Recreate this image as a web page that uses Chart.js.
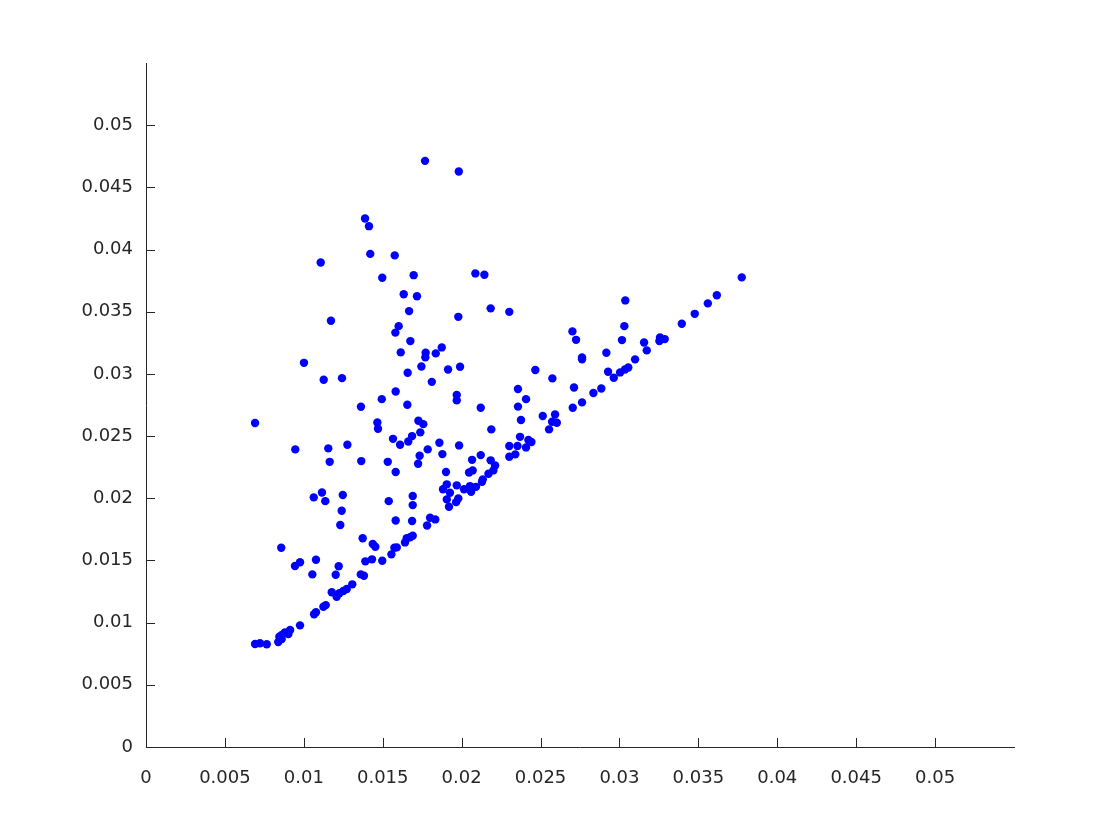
<!DOCTYPE html>
<html><head><meta charset="utf-8">
<script src="https://cdn.jsdelivr.net/npm/chart.js@4/dist/chart.umd.min.js"></script>
<style>html,body{margin:0;padding:0;background:#fff}#wrap{width:1120px;height:840px}</style>
</head><body><div id="wrap"><canvas id="c" width="1120" height="840"></canvas></div>
<script>
const xValues = [
0.01768,0.01982,0.01388,0.01413,0.01107,0.01421,0.01576,0.01497,0.01696,0.02087,
0.02144,0.01633,0.01717,0.01667,0.02184,0.02302,0.01172,0.01979,0.01601,0.01580,
0.01675,0.01614,0.01772,0.01770,0.01836,0.01874,0.01001,0.01745,0.01658,0.01914,
0.01990,0.01126,0.01242,0.01811,0.01582,0.01969,0.01969,0.01494,0.01362,0.01656,
0.02121,0.02357,0.02357,0.00691,0.01466,0.01470,0.01726,0.01757,0.01738,0.02188,
0.02376,0.01565,0.01686,0.01662,0.01610,0.01859,0.01984,0.00946,0.01155,0.01276,
0.01785,0.01878,0.01164,0.01364,0.01532,0.01734,0.01724,0.01582,0.02066,0.02121,
0.02184,0.02212,0.02201,0.02170,0.02134,0.02129,0.02070,0.02047,0.01901,0.02302,
0.02354,0.02302,0.02340,0.02370,0.01906,0.01882,0.01969,0.02015,0.02053,0.02091,
0.02060,0.01926,0.01906,0.01979,0.01965,0.01920,0.01063,0.01115,0.01136,0.01247,
0.01240,0.01538,0.01690,0.01690,0.01582,0.01686,0.01800,0.01833,0.01781,0.01231,
0.00857,0.01373,0.01437,0.01453,0.00944,0.00976,0.01077,0.01054,0.01221,0.01202,
0.01390,0.01432,0.01497,0.01555,0.01574,0.01589,0.01641,0.01652,0.01673,0.01690,
0.01361,0.01381,0.01307,0.01272,0.01250,0.01225,0.01208,0.01177,0.01139,0.01124,
0.01077,0.01065,0.00976,0.00913,0.00902,0.00881,0.00860,0.00845,0.00860,0.00838,
0.00691,0.00722,0.00765,0.03775,0.03617,0.03560,0.03477,0.03395,0.03037,0.02702,
0.02725,0.03031,0.03016,0.03156,0.03257,0.03287,0.03253,0.03173,0.03099,0.03056,
0.03035,0.03004,0.02928,0.02964,0.02763,0.02763,0.02917,0.02467,0.02575,0.02712,
0.02885,0.02835,0.02763,0.02704,0.02408,0.02514,0.02592,0.02573,0.02603,0.02554,
0.02423,0.02442,0.02408
];
const yValues = [
0.04713,0.04628,0.04250,0.04188,0.03896,0.03965,0.03953,0.03773,0.03794,0.03808,
0.03797,0.03641,0.03625,0.03505,0.03527,0.03499,0.03427,0.03459,0.03384,0.03332,
0.03264,0.03173,0.03170,0.03133,0.03165,0.03213,0.03089,0.03060,0.03009,0.03036,
0.03057,0.02953,0.02966,0.02936,0.02859,0.02830,0.02787,0.02797,0.02736,0.02752,
0.02728,0.02879,0.02737,0.02605,0.02610,0.02559,0.02623,0.02596,0.02530,0.02554,
0.02629,0.02478,0.02500,0.02457,0.02430,0.02446,0.02425,0.02393,0.02401,0.02430,
0.02393,0.02355,0.02293,0.02299,0.02293,0.02342,0.02277,0.02211,0.02309,0.02347,
0.02305,0.02264,0.02224,0.02197,0.02152,0.02133,0.02224,0.02207,0.02211,0.02420,
0.02421,0.02334,0.02353,0.02494,0.02112,0.02072,0.02104,0.02072,0.02098,0.02092,
0.02052,0.02044,0.01991,0.01999,0.01969,0.01932,0.02007,0.02047,0.01977,0.02026,
0.01900,0.01977,0.02018,0.01945,0.01821,0.01817,0.01843,0.01830,0.01781,0.01785,
0.01602,0.01678,0.01632,0.01610,0.01455,0.01485,0.01506,0.01388,0.01453,0.01385,
0.01493,0.01509,0.01498,0.01549,0.01602,0.01605,0.01645,0.01678,0.01686,0.01699,
0.01388,0.01377,0.01308,0.01270,0.01254,0.01236,0.01208,0.01244,0.01141,0.01128,
0.01083,0.01067,0.00978,0.00941,0.00908,0.00922,0.00900,0.00887,0.00868,0.00844,
0.00828,0.00834,0.00826,0.03776,0.03633,0.03567,0.03483,0.03403,0.03591,0.03342,
0.03274,0.03384,0.03272,0.03253,0.03293,0.03280,0.03264,0.03189,0.03117,0.03052,
0.03036,0.03012,0.03017,0.02969,0.03133,0.03117,0.03170,0.03031,0.02964,0.02891,
0.02883,0.02846,0.02771,0.02728,0.02797,0.02661,0.02674,0.02615,0.02607,0.02554,
0.02468,0.02452,0.02409
];
const xTickValues = [0,0.005,0.01,0.015,0.02,0.025,0.03,0.035,0.04,0.045,0.05];
const xTickLabels = ['0','0.005','0.01','0.015','0.02','0.025','0.03','0.035','0.04','0.045','0.05'];
const yTickValues = [0,0.005,0.01,0.015,0.02,0.025,0.03,0.035,0.04,0.045,0.05];
const yTickLabels = ['0','0.005','0.01','0.015','0.02','0.025','0.03','0.035','0.04','0.045','0.05'];

const points = xValues.map((x, i) => ({x: x, y: yValues[i]}));
const axisColor = '#262626';
const tickFont = {family: 'DejaVu Sans', size: 18};

const inwardTicks = {
  id: 'inwardTicks',
  afterDraw(chart) {
    const ctx = chart.ctx;
    const xs = chart.scales.x, ys = chart.scales.y;
    const area = chart.chartArea;
    ctx.save();
    ctx.strokeStyle = axisColor;
    ctx.lineWidth = 1;
    ctx.beginPath();
    xTickValues.forEach(v => {
      const px = Math.round(xs.getPixelForValue(v)) + 0.5;
      ctx.moveTo(px, area.bottom);
      ctx.lineTo(px, area.bottom - 9);
    });
    yTickValues.forEach(v => {
      const py = Math.round(ys.getPixelForValue(v)) + 0.5;
      ctx.moveTo(area.left, py);
      ctx.lineTo(area.left + 9, py);
    });
    ctx.stroke();
    ctx.restore();
  }
};

new Chart(document.getElementById('c'), {
  type: 'scatter',
  data: {datasets: [{
    data: points,
    pointRadius: 4.2,
    pointBackgroundColor: '#0000ff',
    pointBorderWidth: 0,
    pointBorderColor: '#0000ff'
  }]},
  options: {
    responsive: false,
    animation: false,
    events: [],
    layout: {padding: {top: 63, right: 106, left: 0, bottom: 0}},
    plugins: {legend: {display: false}, tooltip: {enabled: false}, title: {display: false}},
    scales: {
      x: {
        type: 'linear', min: 0, max: 0.055,
        afterBuildTicks: s => { s.ticks = xTickValues.map(v => ({value: v})); },
        afterFit: s => { s.height = 93; },
        grid: {display: false, drawTicks: false, tickLength: 0},
        border: {display: true, color: axisColor, width: 1},
        ticks: {
          autoSkip: false, maxRotation: 0, padding: 21, color: axisColor, font: tickFont,
          callback: (v, i) => xTickLabels[i]
        }
      },
      y: {
        type: 'linear', min: 0, max: 0.055,
        afterBuildTicks: s => { s.ticks = yTickValues.map(v => ({value: v})); },
        afterFit: s => { s.width = 146; },
        grid: {display: false, drawTicks: false, tickLength: 0},
        border: {display: true, color: axisColor, width: 1},
        ticks: {
          autoSkip: false, padding: 13, color: axisColor, font: tickFont,
          callback: (v, i) => yTickLabels[i]
        }
      }
    }
  },
  plugins: [inwardTicks]
});
</script>
</body></html>
